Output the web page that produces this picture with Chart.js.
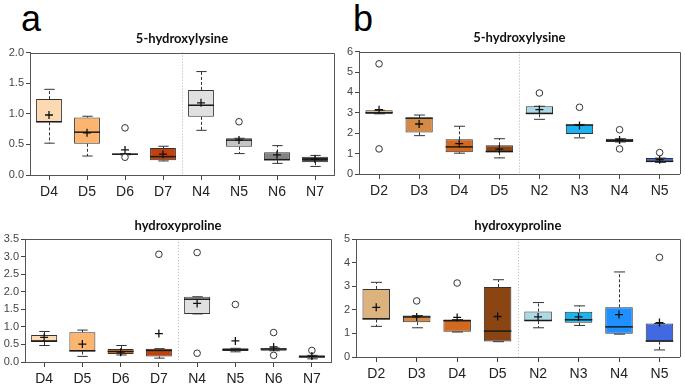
<!DOCTYPE html>
<html>
<head>
<meta charset="utf-8">
<script src="https://cdn.jsdelivr.net/npm/chart.js@4.4.1/dist/chart.umd.min.js"></script>
<style>
  body { margin: 0; background: #fff; width: 685px; height: 386px; overflow: hidden; position: relative; }
  canvas { position: absolute; }
  .tag { position: absolute; font-family: "Liberation Sans", Arial, sans-serif; font-size: 36px; line-height: 36px; color: #000; }
</style>
</head>
<body>
<div class="tag" style="left:21px; top:1px;">a</div>
<div class="tag" style="left:353px; top:1px;">b</div>
<canvas id="lysA" width="340" height="180" style="left:0; top:20px;"></canvas>
<canvas id="lysB" width="350" height="180" style="left:335px; top:20px;"></canvas>
<canvas id="hypA" width="340" height="181" style="left:0; top:205px;"></canvas>
<canvas id="hypB" width="350" height="181" style="left:335px; top:205px;"></canvas>
<script>
// panel a, 5-hydroxylysine
const lysA_labels = ["D4", "D5", "D6", "D7", "N4", "N5", "N6", "N7"];
const lysA_hi   = [1.40, 0.96, 0.35, 0.47, 1.69, 0.60, 0.48, 0.32];
const lysA_q3   = [1.24, 0.94, 0.35, 0.44, 1.39, 0.60, 0.37, 0.30];
const lysA_med  = [0.87, 0.70, 0.34, 0.30, 1.14, 0.57, 0.25, 0.26];
const lysA_q1   = [0.86, 0.51, 0.33, 0.24, 0.95, 0.46, 0.24, 0.21];
const lysA_lo   = [0.52, 0.31, 0.33, 0.23, 0.73, 0.35, 0.19, 0.14];
const lysA_mean = [0.98, 0.69, 0.41, 0.34, 1.18, 0.57, 0.33, 0.26];
const lysA_outX = ["D6", "D6", "N5"];
const lysA_outY = [0.77, 0.29, 0.87];

// panel b, 5-hydroxylysine
const lysB_labels = ["D2", "D3", "D4", "D5", "N2", "N3", "N4", "N5"];
const lysB_hi   = [3.12, 2.89, 2.34, 1.73, 3.32, 2.43, 1.73, 0.78];
const lysB_q3   = [3.12, 2.76, 1.70, 1.41, 3.32, 2.43, 1.73, 0.78];
const lysB_med  = [3.00, 2.74, 1.33, 1.10, 2.97, 2.40, 1.65, 0.62];
const lysB_q1   = [2.95, 2.04, 1.07, 1.07, 2.93, 1.96, 1.57, 0.60];
const lysB_lo   = [2.95, 1.88, 1.02, 0.79, 2.68, 1.77, 1.57, 0.57];
const lysB_mean = [3.15, 2.45, 1.49, 1.22, 3.16, 2.38, 1.67, 0.70];
const lysB_outX = ["D2", "D2", "N2", "N3", "N4", "N4", "N5"];
const lysB_outY = [5.40, 1.23, 3.97, 3.27, 2.17, 1.23, 1.05];

// panel a, hydroxyproline
const hypA_labels = ["D4", "D5", "D6", "D7", "N4", "N5", "N6", "N7"];
const hypA_hi   = [0.87, 0.91, 0.47, 0.38, 1.86, 0.39, 0.40, 0.19];
const hypA_q3   = [0.77, 0.85, 0.37, 0.38, 1.86, 0.39, 0.39, 0.19];
const hypA_med  = [0.60, 0.32, 0.30, 0.33, 1.79, 0.35, 0.37, 0.15];
const hypA_q1   = [0.57, 0.30, 0.23, 0.16, 1.37, 0.31, 0.32, 0.12];
const hypA_lo   = [0.47, 0.16, 0.20, 0.11, 1.37, 0.29, 0.32, 0.09];
const hypA_mean = [0.70, 0.51, 0.28, 0.81, 1.67, 0.60, 0.43, 0.17];
const hypA_outX = ["D7", "N4", "N4", "N5", "N6", "N6", "N7"];
const hypA_outY = [3.07, 3.12, 0.25, 1.64, 0.84, 0.19, 0.33];

// panel b, hydroxyproline
const hypB_labels = ["D2", "D3", "D4", "D5", "N2", "N3", "N4", "N5"];
const hypB_hi   = [3.17, 1.76, 1.59, 3.28, 2.31, 2.17, 3.61, 1.42];
const hypB_q3   = [2.89, 1.76, 1.59, 2.97, 1.93, 1.92, 2.11, 1.42];
const hypB_med  = [1.62, 1.70, 1.54, 1.10, 1.55, 1.58, 1.28, 0.68];
const hypB_q1   = [1.59, 1.48, 1.07, 0.66, 1.52, 1.45, 0.99, 0.65];
const hypB_lo   = [1.30, 1.24, 1.06, 0.65, 1.24, 1.34, 0.97, 0.30];
const hypB_mean = [2.11, 1.70, 1.68, 1.72, 1.70, 1.70, 1.80, 1.46];
const hypB_outX = ["D3", "D4", "N5"];
const hypB_outY = [2.38, 3.14, 4.23];

const colorsA = ["#fdd9b1", "#fdb46e", "#f57b1c", "#c2410c", "#e0e0e0", "#c4c4c4", "#828282", "#3a3a3a"];
const colorsB = ["#dcb27f", "#d48a45", "#d2691e", "#8b4513", "#add8e6", "#1ab4f0", "#1e90ff", "#4169e1"];

// whiskers and medians, drawn right after the boxes
const whiskerPlugin = {
  id: "whiskers",
  afterDatasetDraw(chart, args, s) {
    if (args.meta.type !== "bar" || !s.q3) return;
    const y = chart.scales.y;
    const ctx = chart.ctx;
    ctx.save();
    args.meta.data.forEach(function (bar, i) {
      const cx = Math.round(bar.x) + 0.5;
      const half = bar.width / 2;
      const cap = bar.width * 0.2;
      ctx.strokeStyle = "#333";
      ctx.lineWidth = 1;
      ctx.setLineDash([3, 2]);
      ctx.beginPath();
      ctx.moveTo(cx, y.getPixelForValue(s.q3[i]));
      ctx.lineTo(cx, y.getPixelForValue(s.hi[i]));
      ctx.moveTo(cx, y.getPixelForValue(s.q1[i]));
      ctx.lineTo(cx, y.getPixelForValue(s.lo[i]));
      ctx.stroke();
      ctx.setLineDash([]);
      ctx.beginPath();
      ctx.moveTo(cx - cap, y.getPixelForValue(s.hi[i]));
      ctx.lineTo(cx + cap, y.getPixelForValue(s.hi[i]));
      ctx.moveTo(cx - cap, y.getPixelForValue(s.lo[i]));
      ctx.lineTo(cx + cap, y.getPixelForValue(s.lo[i]));
      ctx.stroke();
      ctx.strokeStyle = "#1a1a1a";
      ctx.lineWidth = 1.5;
      ctx.beginPath();
      ctx.moveTo(bar.x - half, y.getPixelForValue(s.med[i]));
      ctx.lineTo(bar.x + half, y.getPixelForValue(s.med[i]));
      ctx.stroke();
    });
    ctx.restore();
  },
  beforeDatasetsDraw(chart) {
    // dotted divider between the two groups
    const a = chart.chartArea;
    const x = chart.scales.x;
    const mid = (x.getPixelForValue(3) + x.getPixelForValue(4)) / 2;
    const ctx = chart.ctx;
    ctx.save();
    ctx.strokeStyle = "#b0b0b0";
    ctx.lineWidth = 1;
    ctx.setLineDash([1, 2]);
    ctx.beginPath();
    ctx.moveTo(Math.round(mid) + 0.5, a.top);
    ctx.lineTo(Math.round(mid) + 0.5, a.bottom);
    ctx.stroke();
    ctx.restore();
  },
  afterDraw(chart) {
    // close the frame on top and right
    const a = chart.chartArea;
    const ctx = chart.ctx;
    ctx.save();
    ctx.strokeStyle = "#555";
    ctx.lineWidth = 1;
    ctx.beginPath();
    ctx.moveTo(Math.round(a.left), Math.round(a.top) + 0.5);
    ctx.lineTo(Math.round(a.right) + 0.5, Math.round(a.top) + 0.5);
    ctx.lineTo(Math.round(a.right) + 0.5, Math.round(a.bottom));
    ctx.stroke();
    ctx.restore();
  }
};

function boxPanel(id, p) {
  const boxes = p.labels.map(function (l, i) { return [p.q1[i], p.q3[i]]; });
  const means = p.labels.map(function (l, i) { return { x: l, y: p.mean[i] }; });
  const outs = p.outX.map(function (l, i) { return { x: l, y: p.outY[i] }; });
  const tickFont = { family: "Liberation Sans", size: 11 };

  new Chart(document.getElementById(id), {
    type: "bar",
    data: {
      labels: p.labels,
      datasets: [
        {
          type: "line", label: "mean", data: means, showLine: false,
          pointStyle: "cross", pointRadius: 4, pointBorderColor: "#111", pointBorderWidth: 1.3
        },
        {
          type: "line", label: "outlier", data: outs, showLine: false,
          pointStyle: "circle", pointRadius: 3.3, pointBackgroundColor: "#fff",
          pointBorderColor: "#333", pointBorderWidth: 1
        },
        {
          type: "bar", label: "box", data: boxes, backgroundColor: p.colors,
          borderColor: "#333", borderWidth: 1, borderSkipped: false,
          barPercentage: 0.68, categoryPercentage: 1
        }
      ]
    },
    options: {
      responsive: false,
      animation: false,
      devicePixelRatio: 1,
      layout: { padding: p.pad },
      plugins: {
        legend: { display: false },
        tooltip: { enabled: false },
        title: {
          display: true, text: p.title, fullSize: false, color: "#111",
          font: { family: "Lato", weight: "bold", size: 13 },
          padding: { top: 7, bottom: 6 }
        },
        whiskers: { q1: p.q1, q3: p.q3, med: p.med, lo: p.lo, hi: p.hi }
      },
      scales: {
        x: {
          offset: true,
          grid: { display: true, drawOnChartArea: false, offset: false, tickLength: 5, color: "#444" },
          border: { display: true, color: "#555" },
          ticks: { color: "#222", font: { family: "Liberation Sans", size: 14 }, padding: 4 },
          afterFit: function (s) { s.height = p.xh; }
        },
        y: {
          min: 0, max: p.max,
          grid: { display: true, drawOnChartArea: false, tickLength: 4, color: "#444" },
          border: { display: true, color: "#555" },
          ticks: {
            stepSize: p.step, color: "#444", font: tickFont, padding: 2,
            callback: function (v) { return p.step < 1 ? v.toFixed(1) : String(v); }
          },
          afterFit: function (s) { s.width = p.yw; }
        }
      }
    },
    plugins: [whiskerPlugin]
  });
}

boxPanel("lysA", {
  labels: lysA_labels, q1: lysA_q1, q3: lysA_q3, med: lysA_med, lo: lysA_lo, hi: lysA_hi,
  mean: lysA_mean, outX: lysA_outX, outY: lysA_outY, colors: colorsA,
  title: "5-hydroxylysine", max: 2, step: 0.5,
  pad: { top: 4, right: 6, left: 0, bottom: 0 }, yw: 30, xh: 25
});
boxPanel("lysB", {
  labels: lysB_labels, q1: lysB_q1, q3: lysB_q3, med: lysB_med, lo: lysB_lo, hi: lysB_hi,
  mean: lysB_mean, outX: lysB_outX, outY: lysB_outY, colors: colorsB,
  title: "5-hydroxylysine", max: 6, step: 1,
  pad: { top: 3, right: 2, left: 0, bottom: 0 }, yw: 24, xh: 26
});
boxPanel("hypA", {
  labels: hypA_labels, q1: hypA_q1, q3: hypA_q3, med: hypA_med, lo: hypA_lo, hi: hypA_hi,
  mean: hypA_mean, outX: hypA_outX, outY: hypA_outY, colors: colorsA,
  title: "hydroxyproline", max: 3.5, step: 0.5,
  pad: { top: 5.6, right: 9, left: 0, bottom: 0 }, yw: 25, xh: 24
});
boxPanel("hypB", {
  labels: hypB_labels, q1: hypB_q1, q3: hypB_q3, med: hypB_med, lo: hypB_lo, hi: hypB_hi,
  mean: hypB_mean, outX: hypB_outX, outY: hypB_outY, colors: colorsB,
  title: "hydroxyproline", max: 5, step: 1,
  pad: { top: 5.6, right: 3, left: 0, bottom: 0 }, yw: 21, xh: 29
});
</script>
</body>
</html>
